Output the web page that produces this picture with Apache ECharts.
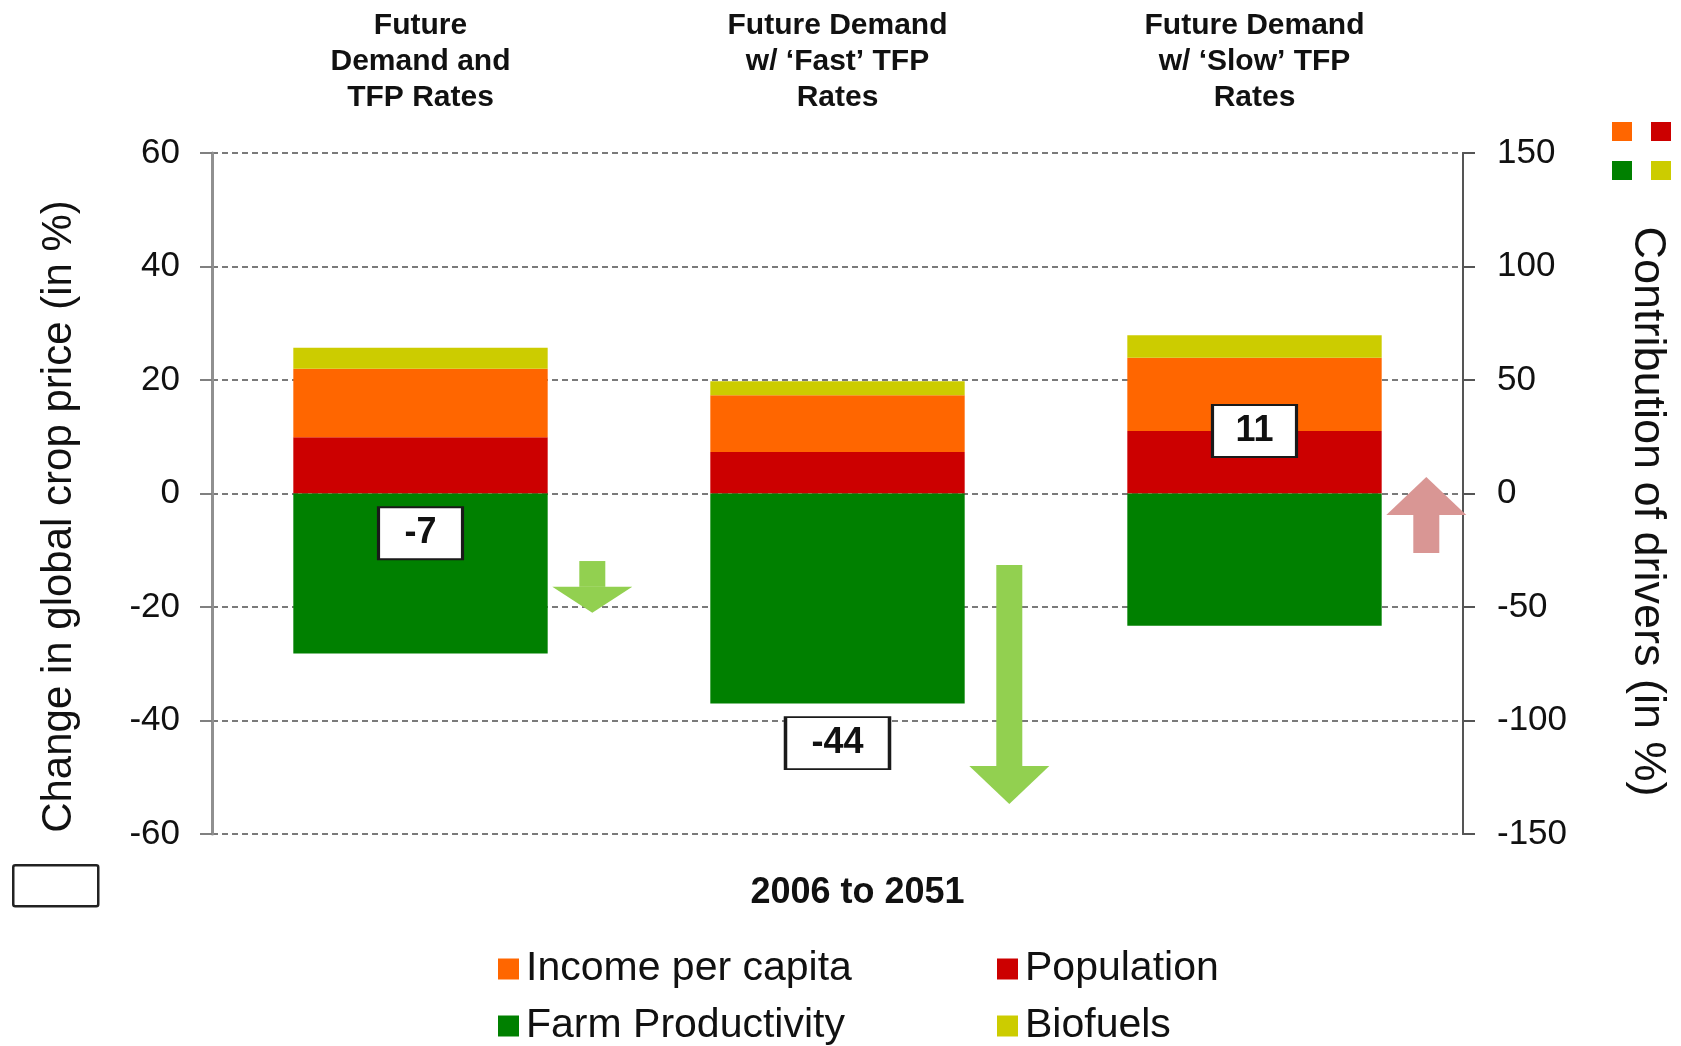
<!DOCTYPE html>
<html>
<head>
<meta charset="utf-8">
<title>Crop price drivers 2006 to 2051</title>
<script src="https://cdn.jsdelivr.net/npm/echarts@6/dist/echarts.min.js"></script>
<style>
  html, body { margin: 0; padding: 0; background: #fff; }
  #chart { width: 1681px; height: 1046px; }
</style>
</head>
<body>
<div id="chart"></div>
<script>
var scenarios = [
    'Future\nDemand and\nTFP Rates',
    'Future Demand\nw/ \u2018Fast\u2019 TFP\nRates',
    'Future Demand\nw/ \u2018Slow\u2019 TFP\nRates'
];
var leftTicks = [-60, 60, 20];
var rightTicks = [-150, 150, 50];

// contribution of each driver
var population = [9.9, 7.3, 11.0];
var income = [12.1, 10.0, 12.9];
var biofuels = [3.7, 2.5, 4.0];
var farmProductivity = [-28.2, -37.0, -23.3];

// net change in crop price (boxed numbers)
var priceChange = [-7, -44, 11];

// arrows beside the bars: from / to
var arrowFrom = [-11.9, -12.6, -10.5];
var arrowTo = [-21.0, -54.7, 2.9];

var font = "'Liberation Sans', Arial, sans-serif";
var colors = {
    income: '#FF6600',
    population: '#CC0000',
    farm: '#008000',
    biofuels: '#CCCC00'
};

var myChart = echarts.init(document.getElementById('chart'));

function renderArrow(params, api) {
    var start = api.coord([api.value(0), api.value(1)]);
    var end = api.coord([api.value(0), api.value(2)]);
    var band = api.size([1, 0])[0];
    var x = start[0] + band * 0.412;
    var dir = end[1] > start[1] ? 1 : -1;
    var len = Math.abs(end[1] - start[1]);
    var head = Math.min(38, len / 2);
    var neck = end[1] - dir * head;
    var color = dir > 0 ? '#92D050' : '#D99694';
    return {
        type: 'group',
        children: [
            {
                type: 'rect',
                shape: { x: x - 13, y: Math.min(start[1], neck), width: 26, height: Math.abs(neck - start[1]) },
                style: { fill: color }
            },
            {
                type: 'polygon',
                shape: { points: [[x - 40, neck], [x + 40, neck], [x, end[1]]] },
                style: { fill: color }
            }
        ]
    };
}

function legendItem(name, left, top) {
    return {
        data: [name],
        left: left,
        top: top,
        icon: 'rect',
        itemWidth: 21,
        itemHeight: 21,
        itemGap: 0,
        selectedMode: false,
        textStyle: { fontFamily: font, fontSize: 41, color: '#111', lineHeight: 44, padding: [0, 0, 0, 2] }
    };
}

function miniLegend(names, top) {
    return {
        data: names,
        left: 1607,
        top: top,
        icon: 'rect',
        itemWidth: 20,
        itemHeight: 19,
        itemGap: 19,
        selectedMode: false,
        formatter: function () { return ''; },
        textStyle: { fontSize: 2 }
    };
}

var option = {
    backgroundColor: '#fff',
    animation: false,
    textStyle: { fontFamily: font },
    grid: { left: 212, right: 218, top: 153, bottom: 212, containLabel: false },
    legend: [
        legendItem('Income per capita', 493, 942),
        legendItem('Population', 992, 942),
        legendItem('Farm Productivity', 493, 999),
        legendItem('Biofuels', 992, 999),
        miniLegend(['Income per capita', 'Population'], 117),
        miniLegend(['Farm Productivity', 'Biofuels'], 156)
    ],
    xAxis: [
        {
            type: 'category',
            data: scenarios,
            position: 'bottom',
            axisLine: { show: false },
            axisTick: { show: false },
            axisLabel: { show: false },
            name: '2006 to 2051',
            nameLocation: 'middle',
            nameGap: 41,
            nameTextStyle: { fontFamily: font, fontSize: 36, fontWeight: 'bold', color: '#111', padding: [0, 0, 0, 40] }
        },
        {
            type: 'category',
            data: scenarios,
            position: 'top',
            axisLine: { show: false },
            axisTick: { show: false },
            axisLabel: {
                margin: 37,
                fontFamily: font,
                fontSize: 30,
                fontWeight: 'bold',
                lineHeight: 36,
                color: '#111'
            }
        }
    ],
    yAxis: [
        {
            type: 'value',
            min: leftTicks[0],
            max: leftTicks[1],
            interval: leftTicks[2],
            position: 'left',
            name: 'Change in global crop price (in %)',
            nameLocation: 'middle',
            nameRotate: 90,
            nameGap: 132,
            nameTextStyle: { fontFamily: font, fontSize: 42, color: '#111', padding: [0, 46, 0, 0] },
            axisLine: { show: true, lineStyle: { color: '#909090', width: 3 } },
            axisTick: { show: true, length: 12, lineStyle: { color: '#808080', width: 2 } },
            axisLabel: { fontFamily: font, fontSize: 35, color: '#111', margin: 32 },
            splitLine: { show: true, lineStyle: { color: '#7a7a7a', width: 2, type: [6, 4] } }
        },
        {
            type: 'value',
            min: rightTicks[0],
            max: rightTicks[1],
            interval: rightTicks[2],
            position: 'right',
            name: 'Contribution of drivers (in %)',
            nameLocation: 'middle',
            nameRotate: -90,
            nameGap: 162,
            nameTextStyle: { fontFamily: font, fontSize: 45, color: '#111', padding: [0, 0, 0, 36] },
            axisLine: { show: true, lineStyle: { color: '#555', width: 2 } },
            axisTick: { show: true, length: 12, lineStyle: { color: '#555', width: 2 } },
            axisLabel: { fontFamily: font, fontSize: 35, color: '#111', margin: 34 },
            splitLine: { show: false }
        }
    ],
    series: [
        { name: 'Population', type: 'bar', stack: 'drivers', barWidth: '61%', data: population, itemStyle: { color: colors.population } },
        { name: 'Income per capita', type: 'bar', stack: 'drivers', data: income, itemStyle: { color: colors.income } },
        { name: 'Biofuels', type: 'bar', stack: 'drivers', data: biofuels, itemStyle: { color: colors.biofuels } },
        { name: 'Farm Productivity', type: 'bar', stack: 'drivers', data: farmProductivity, itemStyle: { color: colors.farm } },
        {
            name: 'Arrows',
            type: 'custom',
            renderItem: renderArrow,
            encode: { x: 0, y: [1, 2] },
            data: arrowFrom.map(function (v, i) { return [i, v, arrowTo[i]]; }),
            z: 5
        },
        {
            name: 'Price change',
            type: 'scatter',
            symbol: 'rect',
            symbolSize: function (val) {
                return [44 + 20 * String(val[1]).length, 52];
            },
            data: priceChange.map(function (v, i) { return [i, v]; }),
            itemStyle: { color: '#fff', borderColor: '#1a1a1a', borderWidth: 2.5, opacity: 1 },
            label: {
                show: true,
                position: 'inside',
                formatter: function (p) { return p.value[1]; },
                fontFamily: font,
                fontSize: 36,
                fontWeight: 'bold',
                color: '#111'
            },
            z: 6
        }
    ],
    graphic: [
        {
            type: 'rect',
            left: 12,
            top: 864,
            shape: { width: 85, height: 41, r: 2 },
            style: { fill: '#fff', stroke: '#222', lineWidth: 2.5 }
        }
    ]
};

myChart.setOption(option, true);
</script>
</body>
</html>
